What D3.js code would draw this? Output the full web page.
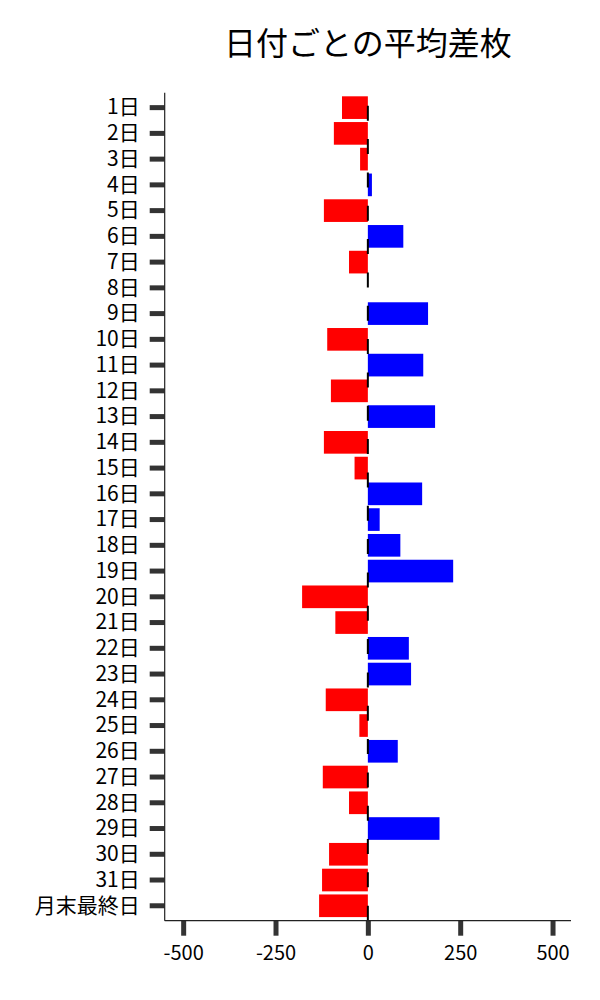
<!DOCTYPE html>
<html>
<head>
<meta charset="utf-8">
<script src="https://cdn.jsdelivr.net/npm/d3@7/dist/d3.min.js"></script>
<style>
  body { margin: 0; background: #fff; }
  text { font-family: "Noto Sans CJK JP", "Noto Sans", sans-serif; }
</style>
</head>
<body>
<svg id="chart" width="600" height="1000"></svg>
<script>
const title = "日付ごとの平均差枚";
const categories = ["1日","2日","3日","4日","5日","6日","7日","8日","9日","10日",
  "11日","12日","13日","14日","15日","16日","17日","18日","19日","20日",
  "21日","22日","23日","24日","25日","26日","27日","28日","29日","30日","31日","月末最終日"];
const values = [-70, -92, -21, 11, -119, 96, -51, 0, 163, -110,
  150, -100, 182, -119, -36, 147, 32, 88, 231, -178,
  -88, 111, 117, -114, -23, 81, -122, -51, 194, -105, -124, -132];
const xTicks = [-500, -250, 0, 250, 500];

(function () {
const svg = d3.select("#chart");
const mL = 164.7, mR = 571, mT = 92.7, mB = 920.7;
const font = '"Noto Sans CJK JP", "Noto Sans", sans-serif';

const x = d3.scaleLinear().domain([-550, 550]).range([mL, mR]);
const y = d3.scaleBand().domain(categories).range([mT, mB])
  .paddingInner(0.12).paddingOuter(0.14);

// title
svg.append("text")
  .attr("x", (mL + mR) / 2).attr("y", 55)
  .attr("text-anchor", "middle")
  .attr("font-size", 32).attr("fill", "#000")
  .text(title);

// bars
svg.append("g").selectAll("rect").data(values).join("rect")
  .attr("x", d => x(Math.min(0, d)))
  .attr("width", d => Math.abs(x(d) - x(0)))
  .attr("y", (d, i) => y(categories[i]))
  .attr("height", y.bandwidth())
  .attr("fill", d => d < 0 ? "#ff0000" : "#0000ff");

// dashed zero line
svg.append("line")
  .attr("x1", x(0)).attr("x2", x(0))
  .attr("y1", mB).attr("y2", mT)
  .attr("stroke", "#000").attr("stroke-width", 2)
  .attr("stroke-dasharray", "15 18.33");

// y axis
const yAxis = d3.axisLeft(y).tickSize(15).tickPadding(10);
const gy = svg.append("g").attr("transform", `translate(${mL},0)`).call(yAxis);
gy.select(".domain").remove();
gy.selectAll(".tick line").attr("stroke", "#333").attr("stroke-width", 5);
gy.selectAll(".tick text").attr("font-size", 21).attr("fill", "#000")
  .style("font-family", font);

// x axis
const xAxis = d3.axisBottom(x).tickValues(xTicks).tickSize(15).tickPadding(10)
  .tickFormat(d => String(d));
const gx = svg.append("g").attr("transform", `translate(0,${mB})`).call(xAxis);
gx.select(".domain").remove();
gx.selectAll(".tick line").attr("stroke", "#333").attr("stroke-width", 5);
gx.selectAll(".tick text").attr("font-size", 20).attr("fill", "#000")
  .style("font-family", font);

// spines
svg.append("line").attr("x1", mL).attr("x2", mL).attr("y1", mT).attr("y2", mB)
  .attr("stroke", "#222").attr("stroke-width", 1.2);
svg.append("line").attr("x1", mL).attr("x2", mR).attr("y1", mB).attr("y2", mB)
  .attr("stroke", "#222").attr("stroke-width", 1.2);
})();
</script>
</body>
</html>
